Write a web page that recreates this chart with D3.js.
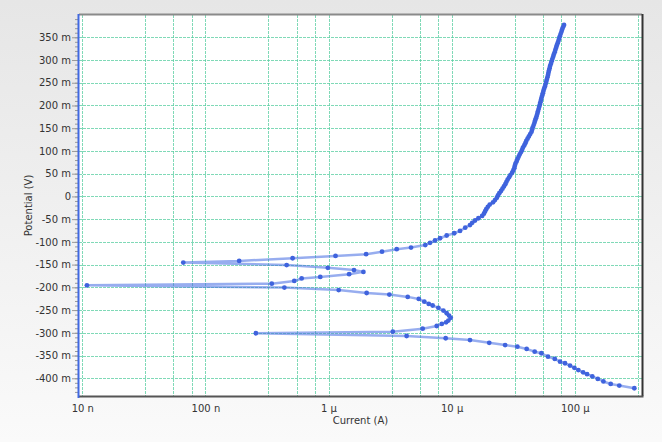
<!DOCTYPE html>
<html>
<head>
<meta charset="utf-8">
<script src="https://cdn.jsdelivr.net/npm/d3@7"></script>
<style>
  body { margin: 0; }
  text { font-family: "DejaVu Sans", Verdana, sans-serif; }
</style>
</head>
<body>
<div id="chart"></div>
<script>
// Data (potential in mV, current in µA)
const potentialMV = [
  -422, -416, -412.5, -407, -401.5, -396, -391, -387, -382, -377,
  -372, -367, -363.5, -357.5, -352.5, -345, -341.5, -335.5, -330.5, -327,
  -322, -316, -312, -307, -301, -297.5, -291, -285, -280.5, -277,
  -273, -267, -262, -257, -251, -245, -240, -236.5, -231.5, -225.5,
  -221, -216, -212.5, -206, -200.5, -195.5, -192, -186, -180.5, -177,
  -171, -166, -162, -157, -151, -145.5, -142, -136, -131, -127,
  -121.5, -116, -112.5, -107, -102, -97, -92, -86, -81, -76, -68.7,
  -63, -58, -53, -48, -43, -38, -33, -28, -23, -18,
  -13, -8, -3, 2, 7, 12, 17, 22, 27, 32,
  37, 42, 47, 52, 57, 62, 67, 72, 77, 82,
  87, 92, 97, 102, 107, 112, 117, 122, 127, 132,
  137, 142, 147, 152, 157, 162, 167, 172, 177, 182,
  187, 192, 197, 202, 207, 212, 217, 222, 227, 232,
  237, 242, 247, 252, 257, 262, 267, 272, 277, 282,
  287, 292, 297, 302, 307, 312, 317, 322, 327, 332,
  337, 342, 347, 352, 357, 362, 367, 372, 377
]

const currentUA = [
  305, 230, 196, 171, 154, 139, 126, 117, 107, 99.3,
  91.6, 83.4, 76.0, 68.9, 60.7, 53.6, 47.3, 40.7, 34.2, 27.2,
  20.2, 14.1, 8.95, 4.31, 0.257, 3.33, 5.82, 7.57, 8.32, 9.02,
  9.40, 9.84, 9.53, 9.12, 8.57, 7.80, 7.01, 6.52, 6.00, 5.41,
  4.40, 3.12, 2.04, 1.21, 0.438, 0.0109, 0.346, 0.527, 0.605, 0.857,
  1.47, 1.92, 1.61, 0.987, 0.457, 0.0661, 0.188, 0.511, 1.14, 2.02,
  2.72, 3.58, 4.68, 6.11, 6.68, 7.33, 8.05, 9.12, 10.5, 11.7, 12.9,
  14.1, 14.7, 15.5, 16.5, 17.7, 18.3, 18.7, 19.1, 19.7, 20.4,
  21.7, 22.5, 23.3, 23.8, 24.4, 25.2, 25.9, 26.6, 27.3, 27.9,
  28.5, 29.3, 30.0, 31.0, 31.7, 32.3, 32.6, 33.0, 33.7, 34.2,
  35.0, 35.7, 36.5, 37.3, 37.9, 38.9, 39.7, 40.4, 41.4, 42.4,
  43.5, 44.6, 45.1, 45.6, 46.4, 47.1, 47.7, 48.4, 49.1, 49.7,
  50.2, 50.9, 51.5, 52.1, 52.6, 53.2, 53.8, 54.5, 55.1, 55.7,
  56.4, 57.3, 58.0, 58.7, 59.3, 60.0, 60.7, 61.2, 61.8, 62.5,
  63.1, 64.1, 64.9, 65.8, 66.8, 67.6, 68.7, 69.6, 70.6, 71.5,
  72.6, 73.7, 74.7, 75.7, 76.8, 78.0, 79.0, 80.2, 81.9
]

// Axis ticks
const xTicks = [1e-8, 1e-7, 1e-6, 1e-5, 1e-4]
const xTickLabels = ['10 n', '100 n', '1 µ', '10 µ', '100 µ']
const yTicks = [-400, -350, -300, -250, -200, -150, -100, -50, 0, 50, 100, 150, 200, 250, 300, 350]
const yMinorTicks = d3.range(-430, 400, 10)
const gridSteps = [1, 3.25, 5.5, 7.75]

const dataset = potentialMV.map((e, i) => ({ e: e / 1000, i: currentUA[i] * 1e-6 }))

// Dimensions
let dimensions = {
  width: 662,
  height: 442,
  margins: { top: 15, right: 20, bottom: 46, left: 79 },
}
dimensions.ctrWidth = dimensions.width - dimensions.margins.left - dimensions.margins.right
dimensions.ctrHeight = dimensions.height - dimensions.margins.top - dimensions.margins.bottom

const svg = d3.select('#chart')
  .append('svg')
  .attr('width', dimensions.width)
  .attr('height', dimensions.height)

// background gradient
const grad = svg.append('defs').append('linearGradient')
  .attr('id', 'bg').attr('x1', 0).attr('y1', 0).attr('x2', 0).attr('y2', 1)
grad.append('stop').attr('offset', '0%').attr('stop-color', '#e6e6e6')
grad.append('stop').attr('offset', '100%').attr('stop-color', '#fafafa')

svg.append('rect')
  .attr('width', dimensions.width)
  .attr('height', dimensions.height)
  .attr('fill', 'url(#bg)')

const ctr = svg.append('g')
  .attr('transform', `translate(${dimensions.margins.left}, ${dimensions.margins.top})`)

ctr.append('rect')
  .attr('width', dimensions.ctrWidth)
  .attr('height', dimensions.ctrHeight)
  .attr('fill', '#ffffff')

// Scales
const xScale = d3.scaleLog()
  .domain([9.4e-9, 3.52e-4])
  .range([0, dimensions.ctrWidth])

const yScale = d3.scaleLinear()
  .domain([-0.439, 0.399])
  .range([dimensions.ctrHeight, 0])

// Grid
const gridX = []
xTicks.forEach(d => gridSteps.forEach(m => {
  const v = d * m
  if (v >= xScale.domain()[0] && v <= xScale.domain()[1]) gridX.push(v)
}))

const grid = ctr.append('g')
  .attr('stroke', '#55cc9f')
  .attr('stroke-opacity', 0.75)
  .attr('stroke-dasharray', '3,1')

grid.selectAll('line.gx')
  .data(gridX)
  .join('line')
  .attr('class', 'gx')
  .attr('x1', d => Math.round(xScale(d)) + 0.5)
  .attr('x2', d => Math.round(xScale(d)) + 0.5)
  .attr('y1', 0)
  .attr('y2', dimensions.ctrHeight)

grid.selectAll('line.gy')
  .data(yTicks)
  .join('line')
  .attr('class', 'gy')
  .attr('x1', 0)
  .attr('x2', dimensions.ctrWidth)
  .attr('y1', d => Math.round(yScale(d / 1000)) + 0.5)
  .attr('y2', d => Math.round(yScale(d / 1000)) + 0.5)

// Frame
ctr.append('line')
  .attr('x1', 0).attr('x2', dimensions.ctrWidth)
  .attr('y1', -0.5).attr('y2', -0.5)
  .attr('stroke', '#8a8a8a').attr('stroke-width', 2)
ctr.append('line')
  .attr('x1', dimensions.ctrWidth + 0.5).attr('x2', dimensions.ctrWidth + 0.5)
  .attr('y1', -1).attr('y2', dimensions.ctrHeight)
  .attr('stroke', '#333333').attr('stroke-width', 2)
ctr.append('line')
  .attr('x1', 0).attr('x2', dimensions.ctrWidth + 1.5)
  .attr('y1', dimensions.ctrHeight + 0.5).attr('y2', dimensions.ctrHeight + 0.5)
  .attr('stroke', '#555555').attr('stroke-width', 2)

// Axes
const yAxisMinor = d3.axisLeft(yScale)
  .tickValues(yMinorTicks.map(d => d / 1000))
  .tickSize(3)
  .tickFormat('')

ctr.append('g')
  .call(yAxisMinor)
  .call(g => g.select('.domain').remove())
  .call(g => g.selectAll('line').attr('stroke', '#9a9a9a').attr('transform', 'translate(-1,0)'))

const yAxis = d3.axisLeft(yScale)
  .tickValues(yTicks.map(d => d / 1000))
  .tickSize(6)
  .tickPadding(2)
  .tickFormat(d => Math.abs(d) < 1e-9 ? '0' : `${Math.round(d * 1000)} m`)

ctr.append('g')
  .call(yAxis)
  .call(g => g.select('.domain').remove())
  .call(g => g.selectAll('line').attr('stroke', '#9a9a9a').attr('transform', 'translate(-1,0)'))
  .call(g => g.selectAll('text').attr('fill', '#333').style('font-size', '10px'))

ctr.append('line')
  .attr('x1', -0.5).attr('x2', -0.5)
  .attr('y1', -1).attr('y2', dimensions.ctrHeight + 2)
  .attr('stroke', '#4169e1').attr('stroke-width', 2)

const xAxis = d3.axisBottom(xScale)
  .tickValues(xTicks)
  .tickSize(0)
  .tickPadding(9)
  .tickFormat((d, i) => xTickLabels[i])

ctr.append('g')
  .attr('transform', `translate(0, ${dimensions.ctrHeight})`)
  .call(xAxis)
  .call(g => g.select('.domain').remove())
  .call(g => g.selectAll('text').attr('fill', '#333').style('font-size', '10px'))

// Axis titles
ctr.append('text')
  .attr('x', dimensions.ctrWidth / 2)
  .attr('y', dimensions.ctrHeight + 28)
  .attr('text-anchor', 'middle')
  .attr('fill', '#333')
  .style('font-size', '10px')
  .text('Current (A)')

ctr.append('text')
  .attr('transform', `translate(-47, ${dimensions.ctrHeight / 2}) rotate(-90)`)
  .attr('text-anchor', 'middle')
  .attr('fill', '#333')
  .style('font-size', '10px')
  .text('Potential (V)')

// Series
const line = d3.line()
  .x(d => xScale(d.i))
  .y(d => yScale(d.e))

ctr.append('path')
  .datum(dataset)
  .attr('d', line)
  .attr('fill', 'none')
  .attr('stroke', '#4169e1')
  .attr('stroke-opacity', 0.55)
  .attr('stroke-width', 2.5)
  .attr('stroke-linejoin', 'round')

ctr.append('g')
  .selectAll('circle')
  .data(dataset)
  .join('circle')
  .attr('cx', d => xScale(d.i))
  .attr('cy', d => yScale(d.e))
  .attr('r', 2.4)
  .attr('fill', '#3f63dd')
</script>
</body>
</html>
